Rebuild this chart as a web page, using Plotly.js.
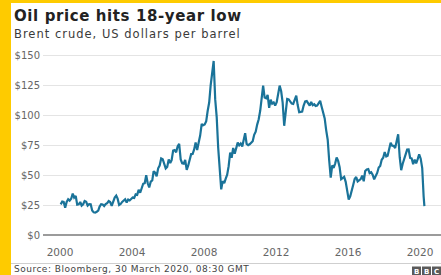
<!DOCTYPE html>
<html><head><meta charset="utf-8">
<script src="https://cdn.plot.ly/plotly-3.0.1.min.js"></script>
<style>
html,body{margin:0;padding:0;background:#fecb00;width:441px;height:275px;overflow:hidden;}
#wrap{position:absolute;left:11px;top:3px;width:430px;height:272px;background:#fff;}
#chart{width:430px;height:272px;}
</style></head>
<body><div id="wrap"><div id="chart"></div></div>
<script>
// Brent crude, monthly values (US$ per barrel)
const brent2000 = [25.5, 27.8, 27.5, 22.8, 27.6, 29.8, 28.7, 30.2, 34.5, 31.2, 32.6, 25.3];
const brent2001 = [25.6, 27.5, 24.5, 25.6, 28.4, 27.7, 24.5, 25.7, 25.6, 20.5, 18.9, 18.6];
const brent2002 = [19.4, 20.3, 23.7, 25.7, 25.4, 24.1, 25.7, 26.6, 28.3, 27.5, 24.3, 28.2];
const brent2003 = [31.2, 32.8, 30.3, 25.0, 25.8, 27.6, 28.4, 29.8, 27.1, 29.6, 28.8, 29.8];
const brent2004 = [31.2, 30.9, 33.8, 33.4, 37.6, 35.2, 38.2, 42.7, 43.2, 49.8, 43.1, 39.6];
const brent2005 = [44.5, 45.5, 53.1, 51.9, 49.0, 55.6, 57.9, 63.8, 63.1, 58.5, 55.5, 56.7];
const brent2006 = [62.9, 60.0, 62.3, 70.4, 70.8, 68.9, 73.9, 76.0, 63.0, 59.8, 59.5, 62.5];
const brent2007 = [54.3, 58.0, 62.1, 67.4, 67.5, 71.3, 77.2, 70.8, 77.1, 82.9, 92.5, 91.5];
const brent2008 = [92.2, 94.8, 103.3, 110.4, 124.6, 133.5, 145.0, 113.2, 98.0, 72.5, 53.0, 38.0];
const brent2009 = [44.9, 43.2, 46.8, 50.3, 57.3, 68.6, 64.4, 72.5, 67.7, 73.2, 77.0, 74.7];
const brent2010 = [76.2, 73.8, 78.8, 84.8, 75.9, 74.8, 75.6, 77.1, 78.2, 83.5, 86.1, 92.0];
const brent2011 = [96.5, 103.7, 114.6, 124.5, 114.5, 113.9, 116.7, 106.0, 112.8, 109.5, 110.5, 107.9];
const brent2012 = [110.7, 119.3, 124.5, 119.8, 110.3, 91.0, 102.6, 113.4, 113.0, 111.5, 109.5, 109.2];
const brent2013 = [112.3, 116.1, 108.5, 102.3, 102.6, 102.9, 107.9, 111.3, 111.6, 109.1, 107.8, 110.8];
const brent2014 = [108.1, 108.9, 107.5, 107.8, 109.5, 111.8, 106.8, 101.6, 97.1, 87.4, 79.4, 62.3];
const brent2015 = [47.8, 58.1, 55.9, 59.5, 64.6, 61.7, 56.5, 46.5, 47.6, 48.4, 44.3, 38.0];
const brent2016 = [29.5, 32.2, 38.2, 41.6, 46.7, 48.3, 44.7, 45.8, 46.6, 49.5, 44.8, 53.3];
const brent2017 = [54.6, 54.9, 51.6, 52.3, 50.3, 46.4, 48.5, 51.7, 56.2, 57.5, 62.7, 64.4];
const brent2018 = [69.1, 65.4, 66.0, 72.1, 76.9, 74.4, 74.3, 72.5, 78.9, 84.0, 64.8, 54.0];
const brent2019 = [59.4, 64.0, 66.1, 71.2, 71.3, 64.2, 63.9, 59.0, 62.8, 59.7, 63.2, 67.3];
const brent2020 = [63.6, 55.7, 32.0, 24.0];
const dates2020 = ['2020-01-15', '2020-02-15', '2020-03-15', '2020-03-30'];
const fullYears = [2000,2001,2002,2003,2004,2005,2006,2007,2008,2009,2010,2011,2012,2013,2014,2015,2016,2017,2018,2019];
const yearSeries = [brent2000,brent2001,brent2002,brent2003,brent2004,brent2005,brent2006,brent2007,brent2008,brent2009,
  brent2010,brent2011,brent2012,brent2013,brent2014,brent2015,brent2016,brent2017,brent2018,brent2019];
const yTicks = [0, 25, 50, 75, 100, 125, 150];
const yTickLabels = ['$0', '$25', '$50', '$75', '$100', '$125', '$150'];
const xTickYears = ['2000','2004','2008','2012','2016','2020'];

const xs = [], ys = [];
fullYears.forEach((yr, i) => {
  yearSeries[i].forEach((v, m) => {
    xs.push(yr + '-' + String(m + 1).padStart(2, '0') + '-15');
    ys.push(v);
  });
});
dates2020.forEach((d, i) => { xs.push(d); ys.push(brent2020[i]); });

// layout geometry (page pixels -> paper)
const OX = 11, OY = 3, W = 430, H = 272;
const ML = 32, MR = 0, MT = 49, MB = 37;
const PW = W - ML - MR, PH = H - MT - MB;
const px = x => (x - OX - ML) / PW;
const py = y => 1 - (y - OY - MT) / PH;

const FONT = 'DejaVu Sans';

const trace = {
  x: xs, y: ys, type: 'scatter', mode: 'lines',
  line: {color: '#1a7399', width: 2.2},
  hoverinfo: 'skip'
};

const shapes = [
  {type: 'line', xref: 'paper', yref: 'paper', x0: px(11), x1: px(441), y0: py(263.5), y1: py(263.5),
   line: {color: '#cfcfcf', width: 1}},
];
const bbcX = [412, 422, 432];
const annotations = [
  {text: '<b>Oil price hits 18-year low</b>', xref: 'paper', yref: 'paper', x: px(12), y: py(5), align: 'left',
   xanchor: 'left', yanchor: 'top', showarrow: false, font: {family: FONT, size: 15, color: '#222'}},
  {text: 'Brent crude, US dollars per barrel', xref: 'paper', yref: 'paper', x: px(12), y: py(25), align: 'left',
   xanchor: 'left', yanchor: 'top', showarrow: false, font: {family: FONT, size: 11.5, color: '#3a3a3a'}},
  {text: 'Source: Bloomberg, 30 March 2020, 08:30 GMT', xref: 'paper', yref: 'paper', x: px(12), y: py(262.3), align: 'left',
   xanchor: 'left', yanchor: 'top', showarrow: false, font: {family: FONT, size: 9, color: '#444'}},
];
const spacing = ['0.6px', '1px', '0.5px'];
['B','B','C'].forEach((t, i) => {
  shapes.push({type: 'rect', xref: 'paper', yref: 'paper', x0: px(bbcX[i]), x1: px(bbcX[i] + 9),
    y0: py(275), y1: py(266.5), fillcolor: '#5a5a5a', line: {width: 0}});
  annotations.push({text: '<b>' + t + '</b>', xref: 'paper', yref: 'paper', x: px(bbcX[i] + 4.5), y: py(265.6),
    xanchor: 'center', yanchor: 'top', showarrow: false, font: {family: FONT, size: 7, color: '#fff'}});
});

const layout = {
  width: W, height: H,
  margin: {l: ML, r: MR, t: MT, b: MB, pad: 0},
  paper_bgcolor: '#fff', plot_bgcolor: '#fff',
  showlegend: false,
  xaxis: {
    type: 'date', range: ['1999-01-21', '2021-03-02'],
    tickvals: xTickYears.map(y => y + '-01-01'), ticktext: xTickYears,
    showgrid: false, zeroline: false, showline: false, ticks: '',
    tickfont: {family: FONT, size: 10.5, color: '#666'},
    ticklabelstandoff: 6, fixedrange: true
  },
  yaxis: {
    range: [-2.5, 152.5], tickvals: yTicks, ticktext: yTickLabels,
    showgrid: true, gridcolor: '#e4e4e4', gridwidth: 1,
    zeroline: true, zerolinecolor: '#9b9b9b', zerolinewidth: 2,
    showline: false, ticks: '',
    tickfont: {family: FONT, size: 10, color: '#666'},
    ticklabelstandoff: 2, fixedrange: true
  },
  shapes: shapes, annotations: annotations
};

Plotly.newPlot('chart', [trace], layout, {displayModeBar: false, staticPlot: true}).then(() => {
  const texts = document.querySelectorAll('#chart .annotation-text');
  texts.forEach((el, i) => { if (i < spacing.length) el.style.letterSpacing = spacing[i]; });
});
</script></body></html>
